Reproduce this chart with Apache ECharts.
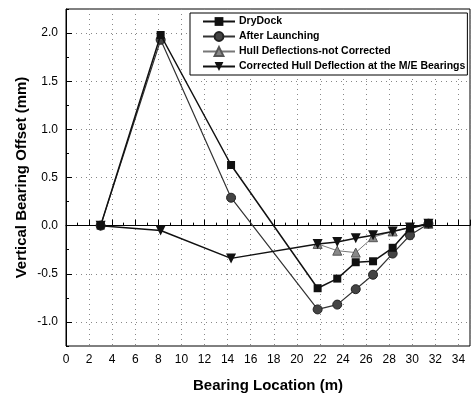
<!DOCTYPE html>
<html>
<head>
<meta charset="utf-8">
<script src="https://cdn.jsdelivr.net/npm/echarts@6/dist/echarts.min.js"></script>
<style>
  html, body { margin: 0; padding: 0; background: #fff; }
  #chart { width: 475px; height: 395px; }
</style>
</head>
<body>
<div id="chart"></div>
<script>
// bearing positions (m)
const bearingX = [3, 8.2, 14.3, 21.8, 23.5, 25.1, 26.6, 28.3, 29.8, 31.4];
const dryDock = [0, 1.98, 0.63, -0.65, -0.55, -0.38, -0.37, -0.23, -0.03, 0.02];
const afterLaunching = [0, 1.93, 0.29, -0.87, -0.82, -0.66, -0.51, -0.29, -0.10, 0.02];
// not-corrected hull deflections only given for the aft bearings
const hullX = [21.8, 23.5, 25.1, 26.6, 28.3, 29.8, 31.4];
const hullNotCorrected = [-0.19, -0.26, -0.28, -0.12, -0.06, -0.02, 0.02];
const corrected = [0, -0.05, -0.34, -0.19, -0.17, -0.13, -0.10, -0.06, -0.02, 0.02];

const yLabels = [-1.0, -0.5, 0.0, 0.5, 1.0, 1.5, 2.0];

const pairs = (xs, ys) => xs.map((x, i) => [x, ys[i]]);
const font = 'Arial, "Liberation Sans", sans-serif';

const chart = echarts.init(document.getElementById('chart'));

const option = {
  backgroundColor: '#fff',
  animation: false,
  grid: {
    left: 66, right: 5, top: 9, bottom: 49,
    outerBoundsMode: 'none',
    show: true, borderColor: '#000', borderWidth: 1
  },
  legend: {
    orient: 'vertical',
    left: 190, top: 13,
    padding: [3, 2, 3, 12],
    itemGap: 4,
    itemWidth: 32,
    itemHeight: 11,
    backgroundColor: '#fff',
    borderColor: '#000',
    borderWidth: 1,
    textStyle: { fontFamily: font, fontWeight: 'bold', fontSize: 10.5, color: '#000', padding: [0, 0, 0, -1] },
    data: ['DryDock', 'After Launching', 'Hull Deflections-not Corrected', 'Corrected Hull Deflection at the M/E Bearings']
  },
  xAxis: {
    type: 'value',
    min: 0, max: 35, interval: 2,
    name: 'Bearing Location (m)',
    nameLocation: 'middle',
    nameGap: 32,
    nameMoveOverlap: false,
    nameTextStyle: { fontFamily: font, fontWeight: 'bold', fontSize: 15, color: '#000' },
    axisLine: { lineStyle: { color: '#000', width: 1 } },
    axisTick: { inside: true, length: 6, lineStyle: { color: '#000' } },
    minorTick: { show: true, splitNumber: 2, length: 3, lineStyle: { color: '#000' } },
    axisLabel: { fontFamily: font, fontSize: 12, color: '#000', margin: 8, showMaxLabel: false },
    splitLine: { show: true, lineStyle: { color: '#888', type: [1, 4], width: 1 } }
  },
  yAxis: [{
    type: 'value',
    min: -1.25, max: 2.25,
    name: 'Vertical Bearing Offset (mm)',
    nameLocation: 'middle',
    nameGap: 37,
    nameMoveOverlap: false,
    nameTextStyle: { fontFamily: font, fontWeight: 'bold', fontSize: 15, color: '#000' },
    axisLine: { lineStyle: { color: '#000', width: 1 } },
    axisTick: { inside: true, length: 6, customValues: yLabels, lineStyle: { color: '#000' } },
    axisLabel: {
      fontFamily: font, fontSize: 12, color: '#000', margin: 8,
      customValues: yLabels,
      formatter: v => v.toFixed(1)
    },
    splitLine: { show: true, lineStyle: { color: '#888', type: [1, 4], width: 1 } }
  }, {
    // minor ticks every 0.25
    type: 'value',
    position: 'left',
    min: -1.25, max: 2.25, interval: 0.25,
    axisLine: { show: false },
    axisTick: { inside: true, length: 3, lineStyle: { color: '#000' } },
    axisLabel: { show: false },
    splitLine: { show: false }
  }],
  series: [{
    name: 'DryDock',
    type: 'line',
    data: pairs(bearingX, dryDock),
    symbol: 'rect',
    symbolSize: 8,
    lineStyle: { color: '#111', width: 1.5 },
    itemStyle: { color: '#111' },
    z: 3
  }, {
    name: 'After Launching',
    type: 'line',
    data: pairs(bearingX, afterLaunching),
    symbol: 'circle',
    symbolSize: 9,
    lineStyle: { color: '#333', width: 1.2 },
    itemStyle: { color: '#444', borderColor: '#222', borderWidth: 1 },
    z: 2
  }, {
    name: 'Hull Deflections-not Corrected',
    type: 'line',
    data: pairs(hullX, hullNotCorrected),
    symbol: 'triangle',
    symbolSize: 9,
    lineStyle: { color: '#777', width: 1 },
    itemStyle: { color: '#888', borderColor: '#555', borderWidth: 1 },
    z: 2
  }, {
    name: 'Corrected Hull Deflection at the M/E Bearings',
    type: 'line',
    data: pairs(bearingX, corrected),
    symbol: 'triangle',
    symbolRotate: 180,
    symbolSize: 10,
    lineStyle: { color: '#111', width: 1.5 },
    itemStyle: { color: '#111' },
    z: 4
  }]
};

chart.setOption(option);
</script>
</body>
</html>
